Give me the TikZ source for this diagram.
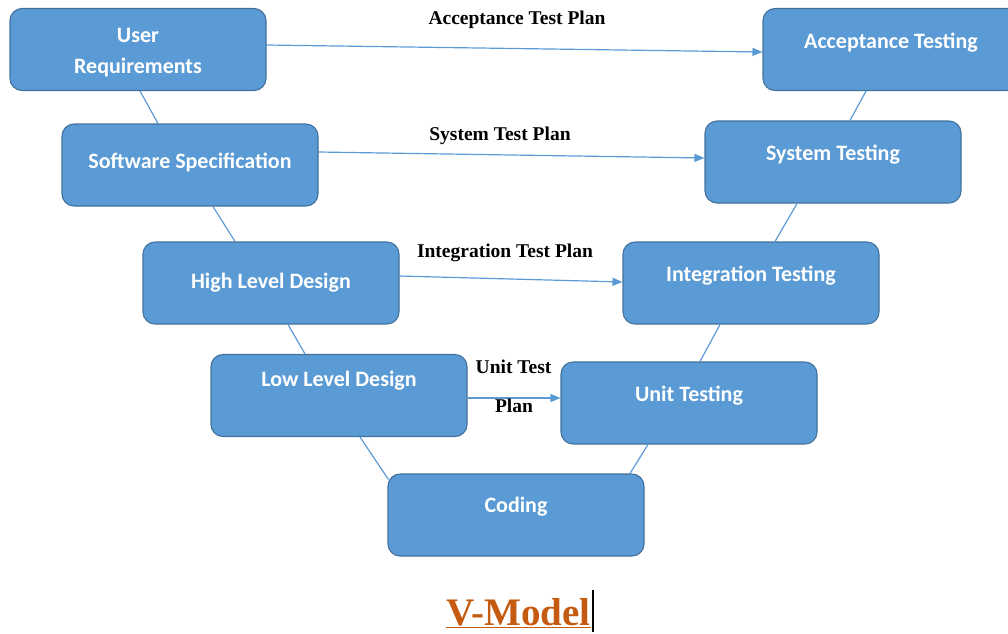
\documentclass[tikz,border=0pt]{standalone}
\usepackage{fontspec}
\setmainfont{Liberation Serif}
\newfontfamily\boxfont{Carlito}
\usetikzlibrary{arrows.meta,calc}
\definecolor{boxfill}{HTML}{5B9BD5}
\definecolor{boxdraw}{HTML}{41719C}
\definecolor{vtitle}{HTML}{C55A11}
\begin{document}
\begin{tikzpicture}[x=1pt,y=-1pt,
  vbox/.style={draw=boxdraw, fill=boxfill, line width=1.1pt, rounded corners=12pt,
    minimum width=256pt, minimum height=82pt, inner sep=0pt},
  vtext/.style={text=white, font=\boxfont\bfseries\fontsize{22}{31}\selectfont,
    anchor=base, inner sep=0pt},
  vlink/.style={draw=boxfill, line width=1.2pt},
  varrow/.style={vlink, -{Triangle[length=10pt,width=8pt]}},
  plan/.style={font=\bfseries\fontsize{19.5}{23}\selectfont, text=black, anchor=base, inner sep=0pt}]
\useasboundingbox (0,0) rectangle (1008,633);
\clip (0,0) rectangle (1008,633);
% boxes
\node[vbox] (ur) at (138,49.5) {};
\node[vbox] (ss) at (190,165) {};
\node[vbox] (hld) at (271,283) {};
\node[vbox] (lld) at (339,395.5) {};
\node[vbox] (cod) at (516,515) {};
\node[vbox] (ut) at (689,403) {};
\node[vbox] (it) at (751,283) {};
\node[vbox] (st) at (833,162) {};
\node[vbox] (at) at (891,49.5) {};
% box texts
\node[vtext] (urt1) at (138,42) {User};
\node[vtext] (urt2) at (138,73) {Requirements};
\node[vtext] (sst) at (190,168) {Software Specification};
\node[vtext] (hldt) at (271,288) {High Level Design};
\node[vtext] (lldt) at (339,386) {Low Level Design};
\node[vtext] (codt) at (516,512) {Coding};
\node[vtext] (utt) at (689,401) {Unit Testing};
\node[vtext] (itt) at (751,281) {Integration Testing};
\node[vtext] (stt) at (833,160) {System Testing};
\node[vtext] (att) at (891,48) {Acceptance Testing};
% V links
\draw[vlink] ($(ur.south)+(2,0)$) -- ($(ss.north)+(-32,0)$);
\draw[vlink] ($(ss.south)+(23,0)$) -- ($(hld.north)+(-36,0)$);
\draw[vlink] ($(hld.south)+(17,0)$) -- ($(lld.north)+(-34,0)$);
\draw[vlink] ($(lld.south)+(21,0)$) -- ($(cod.north west)+(1,6)$);
\draw[vlink] ($(cod.north)+(114,0)$) -- ($(ut.south)+(-41,0)$);
\draw[vlink] ($(ut.north)+(11,0)$) -- ($(it.south)+(-31,0)$);
\draw[vlink] ($(it.north)+(24,0)$) -- ($(st.south)+(-36,0)$);
\draw[vlink] ($(st.north)+(17,0)$) -- ($(at.south)+(-25,0)$);
% test plan arrows
\draw[varrow] ($(ur.east)+(0,-4.5)$) -- ($(at.west)+(0,2.5)$);
\draw[varrow] ($(ss.east)+(0,-13)$) -- ($(st.west)+(0,-4)$);
\draw[varrow] ($(hld.east)+(0,-7)$) -- ($(it.west)+(0,-1)$);
\draw[varrow] ($(lld.east)+(0,2.5)$) -- ($(ut.west)+(0,-5)$);
% labels
\node[plan] (l1) at (517,24) {Acceptance Test Plan};
\node[plan] (l2) at (500,140) {System Test Plan};
\node[plan] (l3) at (505,257) {Integration Test Plan};
\node[plan] (l4a) at (513.5,373) {Unit Test};
\node[plan] (l4b) at (514,412) {Plan};
% title
\node[anchor=base, inner sep=0pt, text=vtitle, font=\bfseries\fontsize{39}{44}\selectfont] (title) at (518.5,625) {\underline{V-Model}};
\coordinate (c1) at (593,590);
\coordinate (c2) at (593,632);
\draw[black, line width=1.3pt] (c1) -- (c2);
\end{tikzpicture}
\end{document}
